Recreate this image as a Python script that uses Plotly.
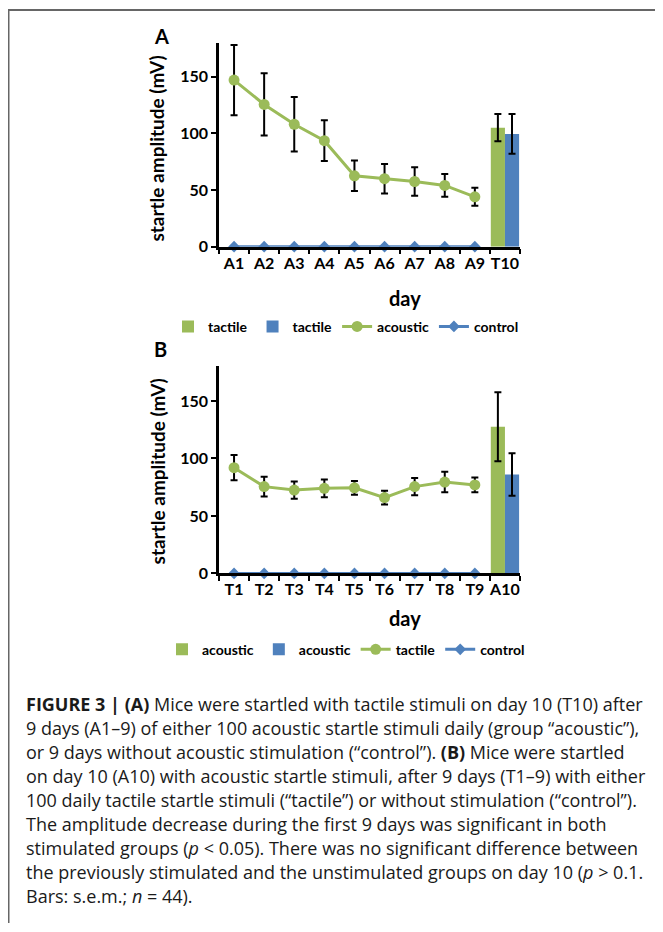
import plotly.graph_objects as go

# ---------------- data ----------------
days_a = ["A1", "A2", "A3", "A4", "A5", "A6", "A7", "A8", "A9", "T10"]
acoustic_a = [147, 125.5, 108, 93.5, 62.5, 60, 57.5, 54, 44]
acoustic_a_err = [31, 27.5, 24, 18, 13.5, 13, 12.5, 10, 8]
control_a = [0, 0, 0, 0, 0, 0, 0, 0, 0]
t10_tactile_green = [105]
t10_tactile_green_err = [12]
t10_tactile_blue = [99.5]
t10_tactile_blue_err = [17.5]

days_b = ["T1", "T2", "T3", "T4", "T5", "T6", "T7", "T8", "T9", "A10"]
tactile_b = [92, 75.5, 72.5, 74, 74.5, 66, 75.5, 79.5, 77]
tactile_b_err = [11, 8.5, 7.5, 7.8, 6, 6, 7.5, 9, 6.5]
control_b = [0, 0, 0, 0, 0, 0, 0, 0, 0]
a10_acoustic_green = [127.5]
a10_acoustic_green_err = [30]
a10_acoustic_blue = [86]
a10_acoustic_blue_err = [18.5]

y_ticks = [0, 50, 100, 150]

caption_lines = [
    "<b>FIGURE 3 | (A)</b> Mice were startled with tactile stimuli on day 10 (T10) after",
    "9 days (A1–9) of either 100 acoustic startle stimuli daily (group “acoustic”),",
    "or 9 days without acoustic stimulation (“control”). <b>(B)</b> Mice were startled",
    "on day 10 (A10) with acoustic startle stimuli, after 9 days (T1–9) with either",
    "100 daily tactile startle stimuli (“tactile”) or without stimulation (“control”).",
    "The amplitude decrease during the first 9 days was significant in both",
    "stimulated groups (<i>p</i> < 0.05). There was no significant difference between",
    "the previously stimulated and the unstimulated groups on day 10 (<i>p</i> > 0.1.",
    "Bars: s.e.m.; <i>n</i> = 44).",
]

# ---------------- style ----------------
# page body has an 8px default margin; the figure is sized/offset to compensate
OX, OY = 8, 8
W, H = 663 - OX, 932 - OY
GREEN = "#9BBB59"
BLUE = "#4F81BD"
FONT = "Lato"


def px_x(x):
    return (x - OX) / W


def px_y(y):
    return 1 - (y - OY) / H


fig = go.Figure()

err_style = dict(type="data", color="black", thickness=2, width=3.5)


def add_panel(xa, ya, legend, days, line_vals, line_err, ctrl, g_val, g_err, b_val, b_err,
              bar_name, line_name):
    last = [days[-1]]
    fig.add_trace(go.Bar(x=last, y=g_val, name=bar_name, marker=dict(color=GREEN, line=dict(width=0)),
                         error_y=dict(array=g_err, **err_style), xaxis=xa, yaxis=ya,
                         legend=legend, offsetgroup="g"))
    fig.add_trace(go.Bar(x=last, y=b_val, name=bar_name, marker=dict(color=BLUE, line=dict(width=0)),
                         error_y=dict(array=b_err, **err_style), xaxis=xa, yaxis=ya,
                         legend=legend, offsetgroup="b"))
    fig.add_trace(go.Scatter(x=days[:-1], y=line_vals, name=line_name, mode="lines+markers",
                             line=dict(color=GREEN, width=3),
                             marker=dict(color=GREEN, size=11, symbol="circle"),
                             error_y=dict(array=line_err, **err_style),
                             xaxis=xa, yaxis=ya, legend=legend, cliponaxis=False))
    fig.add_trace(go.Scatter(x=days[:-1], y=ctrl, name="control", mode="lines+markers",
                             line=dict(color=BLUE, width=3),
                             marker=dict(color=BLUE, size=9, symbol="diamond"),
                             xaxis=xa, yaxis=ya, legend=legend, cliponaxis=False))


add_panel("x", "y", "legend", days_a, acoustic_a, acoustic_a_err, control_a,
          t10_tactile_green, t10_tactile_green_err, t10_tactile_blue, t10_tactile_blue_err,
          "tactile", "acoustic")
add_panel("x2", "y2", "legend2", days_b, tactile_b, tactile_b_err, control_b,
          a10_acoustic_green, a10_acoustic_green_err, a10_acoustic_blue, a10_acoustic_blue_err,
          "acoustic", "tactile")

xdom = [px_x(219), px_x(520)]
ydomA = [px_y(249), px_y(43)]
ydomB = [px_y(579), px_y(370)]

tickfont = dict(family=FONT, size=16, color="black", weight=700)

xcommon = dict(type="category", showline=True, linecolor="black", linewidth=2.5,
               ticks="outside", ticklen=5, tickwidth=2, tickcolor="black",
               tickson="boundaries", showgrid=False, zeroline=False, tickangle=0,
               tickfont=tickfont, range=[-0.5, 9.5], domain=xdom, fixedrange=True)
# overlay axes that draw the upper half of the crossing category ticks
xinner = dict(type="category", showline=False, ticks="inside", ticklen=4, tickwidth=2,
              tickcolor="black", tickson="boundaries", showgrid=False, zeroline=False,
              showticklabels=False, range=[-0.5, 9.5], domain=xdom, fixedrange=True)
ycommon = dict(range=[0, 180], tickvals=y_ticks, showline=True, linecolor="black",
               linewidth=2.5, ticks="outside", ticklen=5, tickwidth=2, tickcolor="black",
               showgrid=False, zeroline=False, tickfont=tickfont, fixedrange=True)

legend_common = dict(orientation="h", xanchor="center", yanchor="middle",
                     font=dict(family=FONT, size=14, color="black", weight=700),
                     itemwidth=30, bgcolor="rgba(0,0,0,0)", traceorder="normal",
                     tracegroupgap=0, itemclick=False, itemdoubleclick=False)


def ann(text, x, y, size, **kw):
    d = dict(text=text, x=px_x(x), y=px_y(y), xref="paper", yref="paper",
             xanchor="center", yanchor="middle", showarrow=False,
             font=dict(family=FONT, size=size, color="black", weight=700))
    d.update(kw)
    return d


annotations = [
    ann("A", 161, 36, 20),
    ann("B", 160, 352, 20),
    ann("startle amplitude (mV)", 157, 150, 19, textangle=-90),
    ann("startle amplitude (mV)", 157, 476, 19, textangle=-90),
    ann("day", 405, 301, 20),
    ann("day", 405, 624, 20),
]
# caption
for i, line in enumerate(caption_lines):
    annotations.append(dict(text=line, x=px_x(24), y=px_y(711 + 24.2 * i), xref="paper", yref="paper",
                            xanchor="left", yanchor="middle", showarrow=False, align="left",
                            font=dict(family="Open Sans", size=18, color="#1a1a1a")))

shapes = [
    dict(type="line", xref="paper", yref="paper", x0=px_x(8), x1=1, y0=px_y(10), y1=px_y(10),
         line=dict(color="#666666", width=2)),
    dict(type="line", xref="paper", yref="paper", x0=px_x(8.5), x1=px_x(8.5), y0=px_y(10), y1=0,
         line=dict(color="#666666", width=2)),
]

fig.update_layout(
    width=W, height=H, margin=dict(l=0, r=0, t=0, b=0),
    paper_bgcolor="white", plot_bgcolor="white",
    barmode="group", bargap=0.06, bargroupgap=0,
    xaxis=dict(anchor="y", categoryorder="array", categoryarray=days_a, **xcommon),
    yaxis=dict(anchor="x", domain=ydomA, **ycommon),
    xaxis2=dict(anchor="y2", categoryorder="array", categoryarray=days_b, **xcommon),
    yaxis2=dict(anchor="x2", domain=ydomB, **ycommon),
    xaxis3=dict(anchor="y", overlaying="x", categoryorder="array", categoryarray=days_a, **xinner),
    xaxis4=dict(anchor="y2", overlaying="x2", categoryorder="array", categoryarray=days_b, **xinner),
    legend=dict(x=px_x(346), y=px_y(330), **legend_common),
    legend2=dict(x=px_x(346), y=px_y(656), **legend_common),
    annotations=annotations,
    shapes=shapes,
    showlegend=True,
)

fig.write_html("out.html")
